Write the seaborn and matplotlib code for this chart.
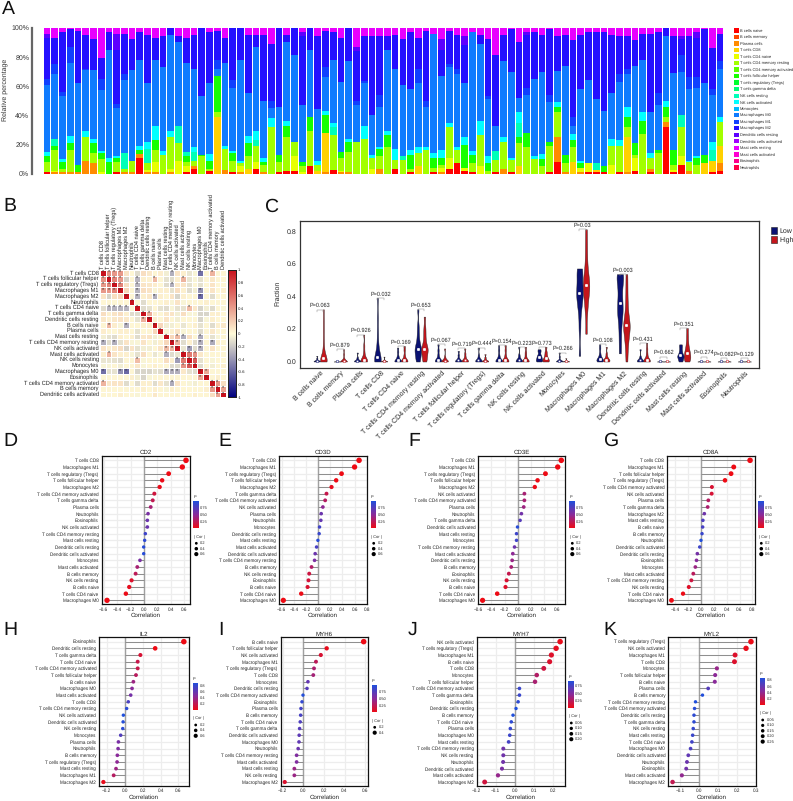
import math

import matplotlib
matplotlib.use("Agg")
import matplotlib.pyplot as plt
import numpy as np
import pandas as pd
import seaborn as sns
from matplotlib.cm import ScalarMappable
from matplotlib.colors import LinearSegmentedColormap, Normalize

W, H = 793, 801

# panel A: legend order and colours
cell_types = ["B cells naive", "B cells memory", "Plasma cells", "T cells CD8", "T cells CD4 naive",
              "T cells CD4 memory resting", "T cells CD4 memory activated", "T cells follicular helper",
              "T cells regulatory (Tregs)", "T cells gamma delta", "NK cells resting", "NK cells activated",
              "Monocytes", "Macrophages M0", "Macrophages M1", "Macrophages M2", "Dendritic cells resting",
              "Dendritic cells activated", "Mast cells resting", "Mast cells activated", "Eosinophils",
              "Neutrophils"]
cell_colors = ["#FF0000", "#FF4600", "#FF8B00", "#FFD100", "#E8FF00", "#A2FF00", "#5DFF00", "#17FF00",
               "#00FF2E", "#00FF74", "#00FFB9", "#00FFFF", "#00B9FF", "#0F7BFF", "#1040FF", "#2410FF",
               "#5D00FF", "#A200FF", "#E800FF", "#FF00D1", "#FF008B", "#FF0046"]

# panel A: top edge of each colour band per sample, 0 = band missing in that sample
top_b_naive = [1, 0, 0, 0, 0, 0, 0, 0, 0, 1,
               0, 0, 11, 0, 0, 0, 0, 0, 1, 3,
               0, 2, 0, 0, 1, 0, 0, 3, 0, 0,
               1, 2, 2, 0, 5.5, 0, 0, 2.5, 0, 0,
               0, 0, 0, 0, 0, 3.5, 0, 1.5, 0, 0,
               1, 0, 3, 7, 2, 1, 0, 0, 1, 0,
               1.5, 0, 0, 0, 0, 1, 8, 0, 0, 0,
               1, 1.5, 1, 0, 1, 0, 2, 0, 1, 0,
               32, 1, 6, 0, 0, 0, 1.5, 2]
top_plasma = [0, 1, 1, 1, 1, 9, 7, 0, 0, 0,
              1, 1, 13.5, 1, 1, 0, 1.5, 0, 0, 5.5,
              0, 0, 0, 2.5, 0, 1, 0, 0, 1, 0,
              0, 0, 0, 0, 0, 0, 1, 0, 1, 1,
              0, 0, 0, 3.5, 0, 0, 0, 0, 0, 0,
              0, 1, 0, 0, 0, 0, 0, 0, 0, 3.5,
              0, 0, 0, 0, 0, 0, 25, 1, 0, 1,
              0, 0, 0, 0, 0, 1, 0, 0, 3.5, 0,
              35.5, 0, 0, 2, 0, 0, 0, 7]
top_cd8 = [0, 0, 0, 0, 0, 0, 0, 0, 0, 0,
           0, 0, 0, 0, 0, 0, 0, 0, 0, 0,
           0, 0, 39, 0, 0, 0, 3.5, 0, 0, 0,
           0, 0, 0, 0, 0, 2, 28, 0, 0, 0,
           0, 0, 0, 0, 0, 0, 0, 0, 5, 0,
           0, 0, 0, 0, 0, 0, 0, 0, 0, 0,
           0, 5, 0, 0, 0, 0, 0, 0, 8, 0,
           0, 2.5, 0, 0, 0, 25, 0, 0, 0, 0,
           0, 0, 0, 0, 0, 7, 8.5, 19]
top_cd4_naive = [0, 2, 0, 0, 0, 0, 0, 1, 0, 0,
                 0, 0, 0, 2.5, 8, 0, 3, 9, 5, 0,
                 0, 0, 0, 0, 0, 5, 0, 8, 0, 0,
                 0, 0, 12, 1.5, 0, 0, 0, 0, 2, 0,
                 0, 0, 3, 0, 0, 0, 0, 0, 0, 0,
                 0, 4, 11, 0, 4, 0, 5, 0, 0, 0,
                 0, 0, 0, 0, 0, 0, 0, 0, 0, 4,
                 7, 0, 0, 6, 0, 0, 10.5, 0, 0, 0,
                 0, 2.5, 12, 0, 0, 0, 0, 0]
top_cd4_resting = [8, 16, 3, 16, 1.5, 25, 14, 10, 0, 8,
                   3, 9, 0, 7.5, 16, 13, 25, 21, 8, 9,
                   12, 3.5, 42, 17, 9, 7, 12, 19, 6, 32,
                   8, 25, 22, 5, 29, 6, 0, 26.5, 11, 15,
                   21.5, 24, 10.5, 12, 18.5, 9.5, 9.5, 3.5, 14, 16,
                   4, 6, 32, 16, 0, 7, 26.5, 2, 9.5, 22,
                   9.5, 21, 18.5, 10, 5, 19, 42.5, 7, 18, 0,
                   0, 0, 0, 19, 19, 32, 13, 27, 11, 14.5,
                   39, 6, 32, 8, 6, 0, 0, 35.5]
top_tfh = [12, 19, 8, 21, 6, 0, 21, 14, 8, 10.5,
           0, 0, 16, 0, 23, 0, 0, 0, 12, 0,
           13, 9, 67, 0, 14, 0, 21, 0, 8, 0,
           13, 33, 0, 8, 38.5, 0, 40, 0, 15, 21.5,
           0, 0, 0, 17, 26.5, 0, 0, 13, 0, 0,
           10.5, 11, 0, 0, 20, 13, 0, 7, 0, 0,
           0, 25, 28, 0, 10, 21.5, 45.5, 13, 23, 7,
           0, 0, 5.5, 0, 0, 39, 21, 36, 0, 16,
           46, 16, 0, 0, 11, 13, 0, 0]
top_nk_resting = [0, 24, 0, 0, 0, 0, 0, 0, 0, 0,
                  14, 0, 0, 17, 0, 0, 0, 33, 15, 15,
                  0, 0, 0, 0, 0, 0, 0, 23, 0, 0,
                  0, 0, 0, 0, 0, 0, 0, 32, 0, 0,
                  0, 0, 0, 0, 0, 0, 12, 0, 0, 0,
                  0, 0, 0, 0, 0, 0, 0, 0, 15.5, 0,
                  0, 34.5, 0, 0, 0, 0, 0, 0, 0, 0,
                  0, 7, 0, 0, 0, 0, 0, 0, 0, 0,
                  0, 0, 40.5, 0, 0, 0, 16, 0]
top_nk_active = [15, 0, 10, 26, 0, 29, 24, 15.5, 10.5, 12,
                 0, 0, 19, 22, 33, 15.5, 29, 0, 0, 18,
                 0, 13.5, 0, 19, 15.5, 9, 26, 29, 11, 38,
                 0, 36, 0, 0, 0, 9, 43, 35, 0, 24,
                 0, 33, 13, 18.5, 29, 17, 0, 16, 18.5, 18.5,
                 14, 16, 35, 18.5, 25, 15.5, 36, 12, 0, 25,
                 11, 42, 0, 12, 13.5, 0, 49, 0, 27, 8.5,
                 0, 0, 0, 24, 23, 46, 0, 42.5, 14, 0,
                 50, 0, 0, 9, 12, 0, 21.5, 39]
top_m0 = [61, 68, 53, 76, 62, 71, 71, 57, 85, 45,
          64, 71, 78, 62, 78, 73, 95, 90, 76, 72,
          53, 62, 72, 76, 59, 78, 55, 87, 50, 45,
          46, 90, 81, 47, 85, 44, 66, 78, 63, 77,
          47, 62, 40, 46, 85, 72, 61, 58, 62, 46,
          96, 67, 73, 68, 62, 97, 89, 51, 33, 77,
          70, 52, 54, 65, 70, 49, 70.5, 74, 33, 58,
          64, 51, 43, 55, 63, 68, 74, 78, 42, 47,
          94, 69, 70, 58, 59, 62, 54, 71.5]
top_m1 = [65, 75, 56, 87, 0, 72, 0, 65, 0, 48,
          68, 0, 0, 0, 0, 0, 0, 0, 0, 0,
          0, 0, 78, 0, 64, 0, 0, 0, 0, 50,
          0, 0, 0, 0, 0, 0, 73, 0, 0, 0,
          50, 63.5, 0, 54, 0, 0, 0, 0, 72, 50,
          0, 0, 75, 72, 0, 0, 0, 53, 0, 0,
          0, 0, 59, 0, 0, 54, 0, 0, 39, 0,
          0, 0, 0, 0, 68, 72, 0, 0, 0, 55,
          0, 0, 81, 66, 66, 0, 58, 77]
top_m2 = [93, 93, 97, 99, 98, 95, 92, 79, 97, 85,
          96, 92, 97, 95, 93, 94, 100, 94, 93, 95,
          100, 97, 98, 93, 100, 100, 95, 95, 95, 89,
          100, 95, 100, 94, 100, 94, 98, 97, 93, 100,
          84, 94, 94, 94, 94, 95, 92, 97, 93, 98,
          96, 85, 98, 95, 88, 97, 95, 92, 81, 95,
          99, 90, 95, 97, 95, 99, 94, 95, 91.5, 95,
          97, 97, 97, 95, 94, 94, 91.5, 96, 95.5, 97,
          100, 94, 92.5, 94.5, 93, 99, 86, 95.5]
top_dc = [96, 0, 0, 0, 0, 0, 0, 0, 0, 96,
          0, 0, 0, 0, 0, 0, 0, 0, 0, 0,
          0, 0, 0, 0, 0, 0, 0, 0, 0, 0,
          0, 0, 0, 97, 0, 0, 0, 0, 0, 0,
          86.5, 0, 0, 0, 0, 0, 0, 0, 0, 0,
          0, 92, 0, 0, 94, 0, 0, 0, 0, 0,
          0, 0, 97, 0, 0, 0, 0, 0, 0, 0,
          0, 0, 0, 0, 0, 0, 0, 0, 0, 0,
          0, 0, 94, 0, 97, 0, 0, 0]

band_tops = {"B cells naive": top_b_naive, "Plasma cells": top_plasma, "T cells CD8": top_cd8,
             "T cells CD4 naive": top_cd4_naive, "T cells CD4 memory resting": top_cd4_resting,
             "T cells follicular helper": top_tfh, "NK cells resting": top_nk_resting,
             "NK cells activated": top_nk_active, "Macrophages M0": top_m0, "Macrophages M1": top_m1,
             "Macrophages M2": top_m2, "Dendritic cells resting": top_dc}

# panel B: row order and upper triangle of the correlation matrix
corr_names = ["T cells CD8", "T cells follicular helper", "T cells regulatory (Tregs)", "Macrophages M1",
              "Macrophages M2", "Neutrophils", "T cells CD4 naive", "T cells gamma delta",
              "Dendritic cells resting", "B cells naive", "Plasma cells", "Mast cells resting",
              "T cells CD4 memory resting", "NK cells activated", "Mast cells activated", "NK cells resting",
              "Monocytes", "Macrophages M0", "Eosinophils", "T cells CD4 memory activated", "B cells memory",
              "Dendritic cells activated"]
corr_upper = [
    [.45, .42, .42, .1, .02, -.12, .12, .08, .03, .06, -.05, -.3, .1, .05, -.08, -.03, -.55, .02, .3, .03, .03],
    [.5, .42, -.15, .03, -.28, .05, .04, .28, .03, -.1, -.12, .05, .3, -.08, -.03, -.1, .02, .08, .03, .03],
    [.5, .12, .02, -.28, .1, .08, .06, .02, -.12, -.3, .08, .1, -.1, .03, -.1, .02, .1, .02, .02],
    [.15, .03, -.28, .12, .1, -.03, .05, .05, -.1, .12, .05, -.12, -.05, -.42, .02, .1, .02, .05],
    [.02, -.28, .05, .08, -.3, .05, .03, .1, -.15, .05, .03, .03, -.58, .03, -.12, .03, .03],
    [.03, -.12, .03, .02, .03, .05, -.03, .1, -.03, .03, .03, .03, .05, .02, .03, .03],
    [-.12, -.1, .03, -.1, -.12, -.03, -.1, -.1, .26, .08, -.15, -.05, -.12, .03, -.03],
    [.32, .05, .03, .08, .1, -.05, .12, -.03, -.03, -.15, -.15, .05, .05, .02],
    [.05, .03, .1, .03, -.05, .03, .03, .03, -.15, -.03, .05, .02, .02],
    [.15, -.05, -.05, .03, -.08, .03, .05, -.1, .03, -.12, .05, .08],
    [-.03, .05, .1, -.03, .03, .03, -.12, .03, .08, .03, .03],
    [.15, .28, -.3, .12, .03, -.32, .03, -.1, -.03, .03],
    [.3, -.12, .05, -.12, -.3, .03, -.32, .05, .03],
    [-.08, -.38, -.12, -.3, .03, .1, .03, .03],
    [.55, .45, .08, .03, .03, .02, .03],
    [.7, -.1, .03, -.03, .02, .02],
    [-.12, .03, -.05, .03, .05],
    [.35, .03, .03, .03],
    [.03, .05, .03],
    [.42, .12],
    [.38],
]
corr_ticks = [1, .8, .6, .4, .2, 0, -.2, -.4, -.6, -.8, -1]

# panel C: violin order, samples
violin_cells = ["B cells naive", "B cells memory", "Plasma cells", "T cells CD8", "T cells CD4 naive",
                "T cells CD4 memory resting", "T cells CD4 memory activated", "T cells follicular helper",
                "T cells regulatory (Tregs)", "T cells gamma delta", "NK cells resting", "NK cells activated",
                "Monocytes", "Macrophages M0", "Macrophages M1", "Macrophages M2", "Dendritic cells resting",
                "Dendritic cells activated", "Mast cells resting", "Mast cells activated", "Eosinophils",
                "Neutrophils"]
low_samples = [
    [0, 0, .001, .002, .004, .006, .01, .02, .035],
    [0, 0, 0, .001, .002, .003],
    [0, 0, .001, .003, .006, .012, .025, .055],
    [0, 0, .002, .005, .01, .02, .04, .07, .11, .18, .27, .39],
    [0, 0, .002, .005, .01, .02, .035, .06, .085],
    [0, .01, .03, .05, .07, .075, .08, .1, .13, .17, .22, .32],
    [0, 0, .002, .005, .01, .02, .04, .07, .105],
    [0, 0, .002, .005, .01, .02, .04, .065],
    [0, .001, .002, .005, .01, .02, .04, .085],
    [0, 0, .002, .005, .01, .02, .04, .07, .10],
    [0, 0, .002, .005, .01, .02, .04, .09],
    [0, .005, .012, .02, .03, .04, .06, .075],
    [0, 0, 0, .001, .002, .01, .03, .055],
    [.035, .2, .3, .35, .39, .41, .43, .46, .5, .54, .57, .57],
    [0, .002, .005, .01, .015, .02, .03, .05, .08, .105],
    [.05, .14, .22, .28, .31, .34, .38, .43, .48, .52, .535, .535],
    [0, 0, .002, .005, .01, .015, .03, .075],
    [0, 0, 0, .001, .002, .003],
    [0, .01, .02, .03, .035, .04, .055, .07, .09, .105],
    [0, 0, 0, .001, .002, .003],
    [0, 0, 0, .001, .002, .003],
    [0, 0, 0, .001, .002, .003],
]
high_samples = [
    [0, 0, 0, .002, .004, .006, .01, .02, .03, .05, .08, .13, .19, .25, .32],
    [0, 0, 0, .001, .002, .004, .02, .045, .075],
    [0, 0, .002, .004, .008, .015, .03, .06, .1, .165],
    [0, 0, 0, .001, .002, .004, .01, .03],
    [0, 0, .002, .005, .01, .02, .04, .07, .095],
    [0, .01, .03, .05, .07, .075, .08, .1, .13, .17, .21, .275],
    [0, 0, .001, .003, .006, .012, .03, .08],
    [0, 0, .002, .004, .008, .015, .03, .05, .08],
    [0, 0, .001, .003, .006, .012, .025, .045],
    [0, 0, .002, .005, .01, .02, .04, .07, .10],
    [0, 0, .002, .005, .01, .02, .04, .06, .09],
    [0, .002, .008, .015, .025, .04, .06, .09],
    [0, 0, 0, .001, .002, .004, .02],
    [.17, .3, .36, .41, .44, .46, .48, .51, .55, .62, .71, .81],
    [0, .002, .005, .008, .012, .018, .03, .05, .09],
    [0, .08, .13, .17, .2, .22, .23, .26, .31, .37, .45, .535],
    [0, 0, .002, .006, .012, .025, .05, .08, .115],
    [0, 0, 0, .001, .002, .003],
    [0, .01, .02, .03, .045, .055, .07, .09, .12, .16, .205],
    [0, 0, 0, .001, .002, .003],
    [0, 0, 0, .001, .002, .003],
    [0, 0, 0, .001, .002, .003],
]
violin_pvalues = ["0.063", "0.879", "0.926", "0.032", "0.169", "0.653", "0.067", "0.719", "0.444", "0.154",
                  "0.223", "0.773", "0.266", "0.03", "0.108", "0.003", "0.431", "0.662", "0.351", "0.274",
                  "0.082", "0.129"]
bracket_tops = [.318, .075, .165, .39, .095, .32, .105, .08, .085, .10, .09, .09, .055, .81, .105, .535, .115,
                .03, .205, .03, .02, .02]

# panels D-K: correlation with each gene, in plotted order
d_names = ["T cells CD8", "Macrophages M1", "T cells regulatory (Tregs)", "T cells follicular helper",
           "Macrophages M2", "T cells CD4 memory activated", "T cells gamma delta", "Plasma cells", "Neutrophils",
           "Eosinophils", "NK cells activated", "T cells CD4 memory resting", "Mast cells resting",
           "Dendritic cells resting", "Dendritic cells activated", "Monocytes", "Mast cells activated",
           "B cells memory", "NK cells resting", "B cells naive", "T cells CD4 naive", "Macrophages M0"]
d_cor = [.625, .57, .367, .27, .233, .154, .13, .10, .06, .05, .05, .02, .01, -.005, -.005, -.06, -.10, -.125,
         -.185, -.22, -.27, -.55]
e_names = ["T cells CD8", "Macrophages M1", "T cells regulatory (Tregs)", "T cells follicular helper",
           "Macrophages M2", "T cells gamma delta", "T cells CD4 memory activated", "NK cells activated",
           "Plasma cells", "Neutrophils", "Monocytes", "Dendritic cells resting", "Mast cells resting",
           "Mast cells activated", "Dendritic cells activated", "T cells CD4 memory resting", "B cells memory",
           "NK cells resting", "Eosinophils", "B cells naive", "T cells CD4 naive", "Macrophages M0"]
e_cor = [.674, .60, .385, .296, .22, .137, .115, .077, .05, .044, .022, .016, -.005, -.027, -.05, -.06, -.11,
         -.148, -.16, -.175, -.28, -.575]
f_names = ["T cells CD8", "Macrophages M1", "T cells regulatory (Tregs)", "T cells follicular helper",
           "Macrophages M2", "NK cells activated", "T cells CD4 memory activated", "Plasma cells", "Neutrophils",
           "T cells gamma delta", "Dendritic cells activated", "Mast cells resting", "Monocytes",
           "T cells CD4 memory resting", "Mast cells activated", "Dendritic cells resting", "B cells memory",
           "Eosinophils", "NK cells resting", "B cells naive", "T cells CD4 naive", "Macrophages M0"]
f_cor = [.66, .606, .42, .30, .258, .10, .10, .09, .055, .035, -.005, -.02, -.02, -.05, -.076, -.086, -.10,
         -.136, -.17, -.187, -.313, -.535]
g_names = ["T cells CD8", "Macrophages M1", "T cells follicular helper", "T cells regulatory (Tregs)",
           "T cells CD4 memory activated", "NK cells activated", "Plasma cells", "T cells gamma delta",
           "Macrophages M2", "Mast cells resting", "B cells naive", "B cells memory", "Neutrophils",
           "Dendritic cells activated", "Dendritic cells resting", "Eosinophils", "Monocytes",
           "Mast cells activated", "T cells CD4 memory resting", "NK cells resting", "T cells CD4 naive",
           "Macrophages M0"]
g_cor = [.764, .51, .468, .374, .17, .166, .114, .104, .052, .03, .026, .016, 0, -.02, -.057, -.07, -.088, -.12,
         -.15, -.19, -.28, -.46]
h_names = ["Eosinophils", "Dendritic cells resting", "T cells gamma delta", "T cells CD4 naive",
           "T cells CD4 memory activated", "T cells follicular helper", "B cells naive", "Macrophages M0",
           "Mast cells activated", "T cells CD8", "T cells CD4 memory resting", "NK cells activated",
           "Dendritic cells activated", "NK cells resting", "Monocytes", "Plasma cells", "Neutrophils",
           "B cells memory", "T cells regulatory (Tregs)", "Mast cells resting", "Macrophages M1", "Macrophages M2"]
h_cor = [.66, .34, .175, .145, .145, .126, .097, .082, .067, .04, .022, -.015, -.018, -.022, -.045, -.07, -.074,
         -.082, -.085, -.097, -.123, -.238]
i_names = ["B cells naive", "T cells follicular helper", "NK cells activated", "Macrophages M1",
           "T cells regulatory (Tregs)", "T cells CD8", "Monocytes", "Dendritic cells resting",
           "T cells CD4 memory activated", "Eosinophils", "Plasma cells", "B cells memory", "T cells CD4 naive",
           "T cells gamma delta", "Dendritic cells activated", "Macrophages M0", "Neutrophils",
           "T cells CD4 memory resting", "Mast cells activated", "Mast cells resting", "NK cells resting",
           "Macrophages M2"]
i_cor = [.586, .227, .17, .123, .104, .097, .045, .036, -.003, -.013, -.023, -.026, -.03, -.036, -.04, -.042,
         -.05, -.065, -.065, -.087, -.087, -.18]
j_names = ["NK cells activated", "T cells regulatory (Tregs)", "Macrophages M1", "B cells naive", "T cells CD8",
           "Monocytes", "T cells follicular helper", "T cells CD4 memory activated", "T cells gamma delta",
           "Eosinophils", "Dendritic cells resting", "B cells memory", "T cells CD4 naive", "Plasma cells",
           "Macrophages M0", "Mast cells resting", "T cells CD4 memory resting", "NK cells resting", "Neutrophils",
           "Dendritic cells activated", "Mast cells activated", "Macrophages M2"]
j_cor = [.239, .218, .193, .184, .153, .116, .107, .025, .025, .018, .007, -.009, -.018, -.023, -.026, -.032,
         -.06, -.06, -.061, -.067, -.088, -.158]
k_names = ["T cells regulatory (Tregs)", "NK cells activated", "Macrophages M1", "T cells CD8", "Monocytes",
           "T cells follicular helper", "B cells naive", "Plasma cells", "B cells memory",
           "T cells CD4 memory resting", "T cells CD4 memory activated", "Dendritic cells resting",
           "T cells gamma delta", "NK cells resting", "Mast cells resting", "T cells CD4 naive", "Macrophages M0",
           "Dendritic cells activated", "Neutrophils", "Eosinophils", "Mast cells activated", "Macrophages M2"]
k_cor = [.275, .249, .191, .188, .095, .086, .084, .049, .019, -.018, -.023, -.026, -.026, -.03, -.033, -.037,
         -.044, -.056, -.063, -.067, -.09, -.139]

# letter, gene, names, values, frame (left, top, right, bottom), zero px, px per unit, x ticks,
# p bar left px, p bar top px, p maximum, p ticks, |cor| labels
lollipops = [
    ("D", "CD2", d_names, d_cor, (101.7, 456, 190, 604), 144, 67.2, [-.6, -.4, -.2, 0, .2, .4, .6],
     193.3, 501, 1, [.75, .5, .25], [.2, .4, .6], (3, 441)),
    ("E", "CD3D", e_names, e_cor, (279.3, 456, 366.7, 604), 318.3, 60.8, [-.6, -.4, -.2, 0, .2, .4, .6, .8],
     370.7, 501, 1, [.75, .5, .25], [.2, .4, .6], (218, 441)),
    ("F", "CD3E", f_names, f_cor, (478.3, 456, 565, 604), 517.7, 66, [-.6, -.4, -.2, 0, .2, .4, .6],
     569.3, 501, 1, [.75, .5, .25], [.2, .4, .6], (408, 441)),
    ("G", "CD8A", g_names, g_cor, (667.3, 456, 755, 604), 701, 64.2, [-.4, -.2, 0, .2, .4, .6, .8],
     758.3, 501, 1, [.75, .5, .25], [.2, .4, .6], (603, 441)),
    ("H", "IL2", h_names, h_cor, (99.3, 637.3, 188.7, 785.7), 124.7, 89.6, [-.2, 0, .2, .4, .6],
     192.7, 682.7, .89, [.8, .6, .4, .2], [.2, .4, .6], (3, 630)),
    ("I", "MYH6", i_names, i_cor, (280.7, 637.3, 367.7, 785.7), 303.3, 103, [-.2, 0, .2, .4, .6],
     371.7, 685, 1, [.75, .5, .25], [.2, .4], (218, 630)),
    ("J", "MYH7", j_names, j_cor, (476.7, 637.3, 565.3, 785.7), 514.7, 190, [-.2, -.1, 0, .1, .2],
     568.3, 680.7, .93, [.75, .5, .25], [.05, .10, .15, .20], (408, 630)),
    ("K", "MYL2", k_names, k_cor, (668.3, 637.3, 755.7, 785.7), 699, 190, [-.1, 0, .1, .2, .3],
     759.7, 677.7, .87, [.8, .6, .4, .2], [.05, .10, .15, .20, .25], (603, 630)),
]
samples_n = 88


def px_axes(fig, left, top, right, bottom):
    return fig.add_axes([left / W, 1 - bottom / H, (right - left) / W, (bottom - top) / H])


def plot_stacked(fig):
    ax = px_axes(fig, 32, 27.7, 725, 173.7)
    tops = pd.DataFrame(band_tops)
    tops["Mast cells resting"] = 100.0
    tops = tops.cummax(axis=1)
    widths = tops.diff(axis=1)
    widths.iloc[:, 0] = tops.iloc[:, 0]
    widths = widths.reindex(columns=cell_types, fill_value=0.0)
    widths["sample"] = np.arange(len(widths))
    long = widths.melt(id_vars="sample", var_name="cell", value_name="percent")
    # histplot stacks the first hue on top, so hand it the list backwards
    sns.histplot(data=long, x="sample", weights="percent", hue="cell", hue_order=cell_types[::-1], multiple="stack",
                 discrete=True, shrink=0.87, palette=cell_colors[::-1], linewidth=0, alpha=1, ax=ax)
    ax.set_xlim(-1.94, 87.64)
    ax.set_ylim(0, 100)
    ax.set_xticks([])
    ax.set_yticks([0, 20, 40, 60, 80, 100], ["0%", "20%", "40%", "60%", "80%", "100%"], fontsize=5)
    ax.tick_params(axis="y", length=1.5, pad=0.5, color="#555555", labelcolor="#333333")
    ax.set_xlabel("")
    ax.set_ylabel("")
    for side in ["top", "right", "bottom"]:
        ax.spines[side].set_visible(False)
    ax.spines["left"].set_color("#666666")
    ax.spines["left"].set_linewidth(1.6)
    old = ax.get_legend()
    handles = old.legend_handles[::-1]
    labels = [t.get_text() for t in old.get_texts()][::-1]
    ax.legend(handles, labels, loc="upper left", bbox_to_anchor=(1.0095, 1.01), frameon=False, fontsize=2.9,
              labelspacing=0.55, handlelength=1.25, handleheight=1.25, handletextpad=0.25, borderpad=0)


def plot_corr_matrix(fig):
    ax = px_axes(fig, 100, 270, 226, 397.3)
    cax = px_axes(fig, 228.3, 270, 236, 397.3)
    size = len(corr_names)
    matrix = np.eye(size)
    for i, row in enumerate(corr_upper):
        matrix[i, i + 1:] = row
        matrix[i + 1:, i] = row
    corr = pd.DataFrame(matrix, index=corr_names, columns=corr_names)
    stars = corr.abs().ge(0.25).replace({True: "*", False: ""})
    cmap = LinearSegmentedColormap.from_list("corr", ["#00007F", "#FFFBD8", "#C8101C"])
    sns.heatmap(corr, ax=ax, cbar_ax=cax, cmap=cmap, vmin=-1, vmax=1, linewidths=0.55, linecolor="white",
                annot=stars, fmt="", annot_kws={"fontsize": 4, "color": "#333333", "va": "center"})
    ax.xaxis.tick_top()
    ax.set_xticks(np.arange(size) + 0.5, corr_names, rotation=90, fontsize=4.1, color="#222222")
    ax.set_yticks(np.arange(size) + 0.5, corr_names, rotation=0, fontsize=4.1, color="#222222")
    ax.tick_params(length=0, pad=1)
    cax.set_yticks(corr_ticks, [f"{t:g}" for t in corr_ticks], fontsize=3.2)
    cax.tick_params(length=0, pad=1.5)
    for spine in cax.spines.values():
        spine.set_visible(True)
        spine.set_linewidth(0.7)
        spine.set_color("#222222")


def plot_violins(fig, overlay):
    ax = px_axes(fig, 300.2, 220.5, 758.5, 367.7)
    rows = []
    for name, low, high in zip(violin_cells, low_samples, high_samples):
        rows += [(name, "Low", v) for v in low] + [(name, "High", v) for v in high]
    long = pd.DataFrame(rows, columns=["cell", "group", "fraction"])
    group_colors = {"Low": "#0A1172", "High": "#C4161C"}
    sns.violinplot(data=long, x="cell", y="fraction", hue="group", order=violin_cells, hue_order=["Low", "High"],
                   palette=group_colors, inner=None, cut=0, density_norm="width", width=0.65, bw_adjust=0.5,
                   saturation=1, linewidth=0.3, legend=False, ax=ax)
    offset = 0.1625
    medians = long.groupby(["cell", "group"])["fraction"].median()
    for i, name in enumerate(violin_cells):
        for group, shift in [("Low", -offset), ("High", offset)]:
            sns.scatterplot(x=[i + shift], y=[medians[(name, group)]], color="white", s=3.5, linewidth=0.35,
                            edgecolor=group_colors[group] if medians[(name, group)] < 0.01 else "white",
                            zorder=4, ax=ax)
        top = bracket_tops[i]
        ax.plot([i - offset, i - offset, i + offset, i + offset], [top - 0.012, top, top, top - 0.012],
                color="#888888", lw=0.35, zorder=3)
        ax.text(i, top + 0.023, f"P={violin_pvalues[i]}", ha="center", va="center", fontsize=4, color="#222222")
    ax.set_xlim(-0.985, 21.7)
    ax.set_ylim(-0.038, 0.864)
    ax.set_xticks(range(len(violin_cells)), violin_cells, rotation=45, ha="right", rotation_mode="anchor",
                  fontsize=5, color="#222222")
    ax.set_yticks([0, .2, .4, .6, .8], ["0.0", "0.2", "0.4", "0.6", "0.8"], fontsize=5)
    ax.tick_params(axis="y", length=2, width=0.5, pad=1)
    ax.tick_params(axis="x", length=0, pad=1.5)
    ax.set_xlabel("")
    ax.set_ylabel("")
    for spine in ax.spines.values():
        spine.set_visible(True)
        spine.set_linewidth(0.9)
        spine.set_color("#333333")
    overlay.text(277.7, 293, "Fraction", rotation=90, ha="center", va="center", fontsize=5)
    for y, label, color in [(230.7, "Low", "#0A1172"), (239.3, "High", "#C4161C")]:
        overlay.add_patch(plt.Rectangle((770.6, y - 3.3), 6.4, 6.6, facecolor=color, edgecolor="#222222", lw=0.4))
        overlay.text(779, y, label, ha="left", va="center", fontsize=5)


def plot_lollipop(fig, overlay, panel, cmap):
    letter, gene, names, cor, frame, zero, unit, ticks, bar_left, bar_top, p_max, p_ticks, cor_labels, letter_xy = panel
    left, top, right, bottom = frame
    ax = px_axes(fig, left, top, right, bottom)
    cor = np.array(cor)
    rows = np.arange(len(names))
    p_values = [math.erfc(abs(r) * math.sqrt((samples_n - 2) / 2)) for r in cor]
    ax.grid(color="#EDEDED", lw=0.9, zorder=0)
    ax.set_axisbelow(True)
    ax.axvline(0, color="#A0A0A0", lw=1, zorder=1)
    ax.hlines(rows, 0, cor, color="#8C8C8C", lw=0.7, zorder=2)
    norm = Normalize(0, p_max)
    sns.scatterplot(x=cor, y=rows, hue=p_values, hue_norm=norm, palette=cmap, size=np.abs(cor), sizes=(6, 16),
                    linewidth=0, legend=False, zorder=3, ax=ax)
    ax.set_xlim((left - zero) / unit, (right - zero) / unit)
    ax.set_ylim(21.55, -0.65)
    ax.set_xticks(ticks, [f"{t:.1f}".replace("-", "\u2212") for t in ticks], fontsize=3.3)
    ax.set_yticks(rows, names, fontsize=3.3)
    ax.tick_params(length=1.2, width=0.4, pad=1, labelcolor="#222222")
    ax.set_xlabel("Correlation", fontsize=4.4, labelpad=0.8, color="#222222")
    ax.set_title(gene, fontsize=4.4, pad=1.2, color="#222222")
    for spine in ax.spines.values():
        spine.set_visible(True)
        spine.set_linewidth(0.9)
        spine.set_color("#111111")

    # colour bar and size key beside the frame
    bar_bottom = bar_top + 27.3
    cax = px_axes(fig, bar_left, bar_top, bar_left + 5.7, bar_bottom)
    bar = fig.colorbar(ScalarMappable(norm=norm, cmap=cmap), cax=cax)
    bar.set_ticks(p_ticks, labels=[f"{t:.2f}" if p_max in (1, .93) else f"{t:.1f}" for t in p_ticks])
    bar.outline.set_visible(False)
    cax.tick_params(length=0, pad=0.8, labelsize=2.9)
    overlay.text(bar_left, bar_top - 4, "P", fontsize=2.9, ha="left", va="center")
    overlay.text(bar_left + 0.5, bar_bottom + 8.5, "| Cor |", fontsize=2.9, ha="left", va="center")
    key_y = bar_bottom + 15 + 5.4 * np.arange(len(cor_labels))
    key_sizes = np.linspace(4, 9, len(cor_labels))
    sns.scatterplot(x=np.full(len(cor_labels), bar_left + 3), y=key_y, color="black", size=key_sizes,
                    sizes=(key_sizes[0], key_sizes[-1]), linewidth=0, legend=False, ax=overlay)
    for y, label in zip(key_y, cor_labels):
        overlay.text(bar_left + 7, y, f"{label:.2f}" if len(cor_labels) > 3 else f"{label:.1f}", fontsize=2.9,
                     ha="left", va="center")
    overlay.text(*letter_xy, letter, fontsize=14, ha="left", va="center", color="#111111")


def main():
    sns.set_style("white")
    plt.rcParams["font.family"] = ["Liberation Sans", "DejaVu Sans"]
    plt.rcParams["text.hinting"] = "no_hinting"
    fig = plt.figure(figsize=(W / 100, H / 100), dpi=100, facecolor="white")
    overlay = fig.add_axes([0, 0, 1, 1], zorder=10)
    overlay.set_xlim(0, W)
    overlay.set_ylim(H, 0)
    overlay.axis("off")
    overlay.patch.set_alpha(0)

    plot_stacked(fig)
    plot_corr_matrix(fig)
    plot_violins(fig, overlay)
    p_cmap = LinearSegmentedColormap.from_list("p", ["#EE0A14", "#8A2A9A", "#1F4FDC"])
    for panel in lollipops:
        plot_lollipop(fig, overlay, panel, p_cmap)

    overlay.set_xlim(0, W)
    overlay.set_ylim(H, 0)
    overlay.text(5, 90, "Relative percentage", rotation=90, ha="center", va="center", fontsize=5,
                 color="#333333")
    overlay.text(2, 9, "A", fontsize=14, ha="left", va="center", color="#111111")
    overlay.text(3, 206, "B", fontsize=14, ha="left", va="center", color="#111111")
    overlay.text(264, 207, "C", fontsize=14, ha="left", va="center", color="#111111")
    fig.savefig("out.png", dpi=100)
    plt.close(fig)


if __name__ == "__main__":
    main()
